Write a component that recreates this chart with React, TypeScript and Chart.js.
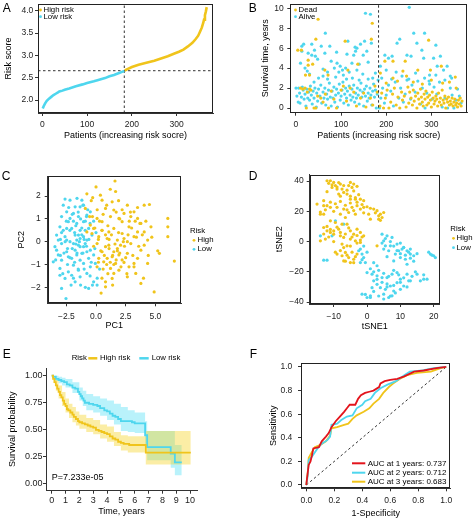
import React, { useEffect, useRef } from "react";
import { Chart, registerables } from "chart.js";
Chart.register(...registerables);

const FONT = '"Liberation Sans", Arial, Helvetica, sans-serif';
Chart.defaults.font.family = FONT;

const YELLOW = "#F0C41B";
const CYAN = "#4ED6EE";
const RED = "#E3141C";
const AXIS = "#333333";

// ---------------- Panel A: risk score curve ----------------
const aLowIdx = [1, 3, 6, 10, 15, 20, 25, 30, 35, 38, 45, 50, 60, 75, 90, 100, 115, 125, 140, 150, 160, 170, 178, 183];
const aLowScore = [1.81, 1.86, 1.92, 1.98, 2.03, 2.07, 2.11, 2.14, 2.17, 2.19, 2.21, 2.23, 2.26, 2.31, 2.35, 2.38, 2.42, 2.45, 2.49, 2.53, 2.56, 2.6, 2.63, 2.65];
const aHighIdx = [184, 190, 200, 215, 230, 250, 265, 280, 295, 305, 315, 325, 335, 342, 348, 352, 356, 359, 361, 363, 365, 367];
const aHighScore = [2.66, 2.69, 2.74, 2.79, 2.83, 2.88, 2.93, 2.98, 3.04, 3.08, 3.13, 3.2, 3.28, 3.36, 3.44, 3.53, 3.62, 3.72, 3.8, 3.9, 3.98, 4.08];
const aCutIdx = 183;
const aCutScore = 2.656;
const aXTicks = [0, 100, 200, 300];
const aYTicks = [2.0, 2.5, 3.0, 3.5, 4.0];

// ---------------- Panel B: survival status ----------------
const bDead = [
  [4, 5.8], [12, 5.8], [49, 8.9], [44, 6.9], [27, 4.8], [27, 4.3], [37, 4.4], [21, 3.3], [30, 3.3], [64, 3.8], [71, 3.3], [109, 6.7], [115, 3.8], [137, 4.4], [169, 8.5], [167, 6.9],
  [187, 3.5], [197, 4.7], [215, 4.7], [237, 3.7], [242, 4.7], [270, 3.8], [294, 6.8], [298, 3.8], [322, 4.2], [353, 3.1],
  [10, 2.0], [15, 1.9], [20, 2.0], [23, 0.0], [25, 1.6], [30, 1.9], [33, 1.8], [40, 0.0], [44, 0.0], [48, 1.2], [55, 1.0], [60, 0.6], [65, 1.4], [72, 0.0], [78, 1.7],
  [84, 0.9], [90, 0.0], [100, 1.8], [105, 2.2], [112, 0.7], [120, 2.0], [128, 1.6], [134, 0.2], [143, 1.0], [150, 1.5], [155, 0.1], [165, 1.0], [170, 0.3], [175, 2.2], [180, 1.6],
  [186, 0.2], [190, 1.5], [194, 0.0], [198, 1.0], [202, 1.8], [206, 0.0], [210, 0.6], [214, 1.4], [218, 2.0], [222, 0.3], [226, 1.1], [230, 0.0], [234, 1.6], [236, 0.8], [240, 1.2],
  [244, 0.1], [248, 2.1], [250, 0.5], [252, 1.6], [255, 1.0], [258, 0.3], [260, 1.8], [262, 0.7], [265, 1.2], [268, 0.0], [270, 1.5], [272, 0.9], [274, 0.4], [276, 1.9], [278, 1.1],
  [280, 0.6], [282, 0.2], [284, 1.4], [286, 0.9], [288, 1.7], [290, 0.3], [292, 1.1], [294, 0.5], [296, 1.3], [298, 0.8], [300, 0.1], [302, 1.6], [304, 1.0], [306, 0.4], [308, 0.7],
  [310, 1.2], [312, 0.9], [314, 0.2], [316, 1.5], [318, 0.6], [320, 1.0], [322, 0.3], [324, 1.8], [326, 0.8], [328, 0.5], [330, 1.2], [332, 0.0], [334, 0.9], [336, 0.6], [338, 1.1],
  [340, 0.3], [342, 0.7], [344, 0.4], [346, 1.0], [348, 0.2], [350, 0.6], [352, 0.9], [354, 0.3], [356, 0.5], [358, 0.1], [360, 0.8], [362, 0.4], [364, 1.0], [366, 0.2], [368, 0.7],
  [200, 2.5], [215, 3.0], [225, 2.7], [260, 2.6], [280, 2.4], [300, 2.8], [325, 2.5], [340, 2.6], [355, 2.0], [245, 3.2],
];
const bAlive = [
  [0, 2.0], [10, 4.5], [13, 6.2], [17, 6.4], [27, 5.5], [35, 5.3], [41, 5.8], [43, 5.2], [65, 7.5], [56, 6.2], [64, 5.5], [78, 4.7], [91, 4.5], [98, 4.2], [103, 3.8], [115, 6.7],
  [124, 4.5], [132, 5.7], [135, 6.0], [143, 6.4], [152, 6.7], [154, 9.5], [165, 9.4], [167, 6.5], [157, 5.7], [149, 5.3], [128, 5.3], [187, 4.2], [197, 5.3], [205, 5.0], [213, 5.2],
  [224, 6.5], [230, 6.9], [251, 10.1], [261, 7.5], [268, 6.5], [285, 7.5], [310, 6.3], [246, 5.3], [255, 5.2], [279, 5.8], [283, 5.0], [305, 5.0], [320, 5.2], [313, 4.2], [327, 3.8],
  [335, 4.2], [296, 3.3], [342, 3.2], [13, 5.7], [35, 6.4], [75, 6.2], [90, 5.6], [113, 5.4], [131, 6.1], [20, 4.0], [48, 4.9], [85, 4.0], [110, 4.0], [140, 4.4], [160, 4.6],
  [60, 3.9], [25, 3.7], [70, 3.6],
  [2, 1.2], [5, 0.6], [6, 2.0], [8, 1.5], [9, 0.5], [12, 1.1], [14, 2.1], [16, 1.8], [18, 0.9], [20, 1.4], [22, 0.2], [24, 1.9], [26, 1.0], [28, 1.6], [30, 0.8], [32, 2.2],
  [34, 1.3], [36, 0.4], [38, 1.7], [40, 1.0], [42, 2.0], [45, 0.1], [46, 1.5], [48, 0.7], [50, 1.9], [53, 1.2], [55, 2.3], [57, 0.5], [60, 1.6], [62, 1.0], [64, 2.0], [66, 0.3],
  [68, 1.4], [70, 0.9], [72, 1.8], [74, 2.5], [76, 1.1], [78, 0.2], [80, 1.7], [82, 1.0], [84, 2.1], [86, 0.6], [88, 1.3], [90, 1.9], [92, 0.1], [94, 1.5], [96, 2.4], [98, 0.8],
  [100, 1.2], [102, 1.8], [104, 2.6], [106, 0.5], [108, 1.4], [110, 2.0], [112, 1.0], [114, 1.7], [116, 0.3], [118, 2.2], [120, 1.3], [122, 0.8], [124, 1.9], [126, 1.1], [128, 2.3],
  [130, 0.6], [132, 1.5], [134, 1.0], [136, 2.0], [138, 1.3], [140, 0.4], [142, 1.8], [144, 2.5], [146, 1.1], [148, 1.6], [150, 0.2], [152, 1.9], [154, 1.2], [156, 2.2], [158, 0.7],
  [160, 1.5], [162, 1.0], [164, 2.0], [166, 1.3], [168, 0.3], [170, 1.7], [172, 2.4], [174, 1.1], [176, 1.8], [178, 0.0], [180, 1.4], [182, 2.8],
  [105, 3.3], [112, 2.9], [118, 3.6], [125, 3.0], [135, 3.8], [140, 2.8], [148, 3.4], [160, 2.9], [170, 3.0], [176, 3.5], [60, 3.2], [70, 2.9], [50, 3.0], [30, 3.4], [88, 3.1],
  [95, 3.6], [40, 2.6],
  [185, 0.0], [188, 1.0], [192, 2.0], [196, 0.5], [200, 1.3], [205, 2.3], [210, 1.7], [216, 0.2], [220, 2.6], [228, 1.0], [232, 2.0], [238, 0.6], [242, 1.4], [246, 2.8], [254, 0.9],
  [257, 2.3], [264, 1.6], [270, 2.7], [276, 0.4], [280, 2.0], [286, 0.0], [290, 1.5], [296, 2.4], [302, 0.9], [306, 2.1], [312, 1.4], [318, 2.6], [324, 0.1], [330, 1.0], [336, 0.0],
  [342, 2.0], [346, 1.3], [350, 0.0], [354, 0.8], [358, 1.9], [362, 1.2], [366, 0.5],
  [190, 3.0], [200, 3.8], [212, 2.9], [222, 3.6], [235, 3.2], [250, 2.9], [265, 3.5], [285, 3.0], [295, 2.7], [310, 3.3], [330, 2.8], [345, 3.0],
];
const bCutIdx = 183;
const bXTicks = [0, 100, 200, 300];
const bYTicks = [0, 2, 4, 6, 8, 10];

// ---------------- Panel C: PCA ----------------
const cHigh = [
  [1.6, 2.66], [-0.77, 2.1], [0.37, 2.04], [1.65, 2.2], [-0.28, 1.93], [0.51, 1.82], [1.36, 1.75], [2.64, 1.6], [4.06, 1.6], [4.5, 1.63], [0.8, 1.46], [1.5, 1.39], [2.36, 1.24],
  [3.2, 1.31], [1.22, 1.1], [1.93, 1.02], [0.09, 1.02], [3.5, 1.02], [6.05, 1.02], [2.78, 0.65], [4.63, 0.65], [6.05, 0.65], [-0.2, 0.58], [0.51, 0.5], [1.5, 0.58], [4.06, 0.43],
  [2.2, 0.36], [3.2, 0.22], [6.05, 0.22], [0.94, 0.14], [1.8, 0.07], [2.64, 0], [4.35, 0.07], [0.09, -0.08], [1.08, -0.15], [2.07, -0.15], [3.78, -0.37], [5.34, -0.51], [0.51, -0.44],
  [1.5, -0.44], [2.64, -0.51], [6.6, -0.85], [0.65, -0.88], [1.65, -0.95], [2.36, -0.91], [3.2, -0.95], [0.09, -1.1], [1.22, -1.17], [1.93, -1.25], [3.35, -1.39], [2.64, -1.54],
  [1.36, -1.61], [0.8, -1.76], [3.78, -1.83], [0.8, -1.98], [4.9, -2.2], [0.43, -2.25], [2.2, 0.88], [2.93, 1.1], [3.78, 0.8], [-0.48, 0.73], [-0.34, 0.36], [0.23, 0.22],
  [0.8, -0.22], [1.36, -0.66], [1.93, -0.58], [2.78, -1.1], [3.5, -0.73], [4.35, -0.95], [1.5, -1.39], [0.23, -0.73], [1.08, 0.43], [2.36, 0.14], [0.51, 0.88], [2.93, -0.08],
  [-0.77, 0.43], [-0.54, 1.1], [-0.9, 1.46], [3.5, 0.43], [4.06, -0.15], [1.8, -0.3], [0.94, -0.73],
  [0.3, 0.9], [0.6, 1.2], [1.0, 0.7], [1.3, 0.3], [1.6, -0.1], [0.4, -0.4], [0.7, -0.6], [1.1, -0.3], [1.4, -0.6], [1.7, -0.8], [2.0, -0.5], [2.4, -0.2], [2.7, 0.3], [3.0, 0.6],
  [3.3, 0.9], [2.2, 1.4], [1.9, 1.8], [0.9, 1.6], [0.1, 1.4], [-0.3, 1.1], [-0.1, 0.6], [0.2, 0.1], [0.6, -1.2], [1.0, -1.4], [1.5, -1.0], [2.1, -1.1], [2.5, -0.7], [3.1, -0.6],
  [3.6, -0.2], [3.9, 0.3], [4.2, 0.9], [2.9, 1.3], [3.5, 1.5], [1.2, 2.3], [0.0, 2.4], [-0.4, 1.8], [0.8, 0.3], [1.2, -0.9], [1.9, 0.4], [2.3, 0.0], [2.6, -1.4], [3.2, -1.1],
  [4.4, -0.6], [4.0, -1.6], [0.5, -1.6], [1.4, -1.9], [2.0, 1.0], [2.8, 0.9], [3.4, 0.2], [1.7, 1.3], [0.2, -0.9], [-0.2, -0.2], [1.1, 0.1], [0.5, 0.5], [1.8, -0.4], [2.2, -0.8],
  [0.9, -1.0], [3.7, 0.8], [4.7, 0.2], [5.2, -0.4],
];
const cLow = [
  [-2.61, 1.87], [-2.19, 1.82], [-2.76, 1.6], [-1.34, 1.53], [-1.05, 1.6], [-2.47, 1.31], [-1.9, 1.24], [-2.9, 1.1], [-1.48, 1.1], [-0.77, 1.17], [-2.33, 0.88], [-1.62, 0.8],
  [-1.05, 0.88], [-3.04, 0.65], [-2.05, 0.58], [-1.34, 0.5], [-0.62, 0.58], [-3.32, 0.29], [-2.61, 0.22], [-1.76, 0.29], [-1.05, 0.22], [-2.9, -0.08], [-2.19, 0], [-1.48, -0.15],
  [-0.91, -0.08], [-3.32, -0.37], [-2.47, -0.44], [-1.76, -0.37], [-1.19, -0.51], [-0.48, -0.37], [-3.6, -0.88], [-2.9, -0.81], [-2.05, -0.73], [-1.34, -0.81], [-0.62, -0.73],
  [-3.04, -1.17], [-2.33, -1.32], [-1.48, -1.25], [-0.77, -1.39], [-2.61, -1.61], [-1.76, -1.76], [-0.2, -1.76], [-2.9, -2.05], [0.09, -1.9], [-0.62, -2.05], [-2.53, -2.49],
  [-0.48, -1.1], [-3.18, -0.58], [-1.9, -1.03], [-1.05, -0.95], [-2.47, 0.07], [-1.62, 0.07], [-2.76, 0.5], [-0.91, 0.5], [-0.34, 0.29], [-0.48, 1.31], [-1.76, 1.53], [-2.19, 1.02],
  [-1.34, -0.22], [-0.77, -0.44], [-0.2, -0.58], [-0.06, -0.95], [-3.46, -0.22], [-2.33, -0.66], [-1.62, -0.58], [-2.05, -1.47], [-1.34, -1.54], [-3.04, -1.47], [-1.19, 1.82],
  [-1.48, 0.29], [-1.9, -0.08], [-1.34, 0.14], [-1.05, -0.22], [-0.77, 0.07], [-2.47, 0.58], [-3.18, 0.07],
  [-2.2, 0.5], [-1.9, 0.9], [-1.5, 1.3], [-1.2, 0.6], [-0.9, 0.9], [-2.6, 0.0], [-2.0, -0.3], [-1.7, -0.1], [-1.4, 0.0], [-1.1, -0.5], [-0.8, -0.2], [-3.0, -0.6], [-2.7, -0.5],
  [-2.4, -1.0], [-1.8, -0.9], [-1.6, -0.5], [-1.0, -1.2], [-0.5, -1.5], [-2.1, -1.9], [-1.3, -1.9], [-0.9, -2.0], [-3.4, -0.8], [-2.9, 0.4], [-1.1, 1.6], [-0.7, 1.4], [-1.6, 1.9],
  [-2.3, 1.5], [-0.6, 0.1], [-0.4, -0.9], [0.3, -1.2], [0.1, -1.6], [-1.2, 0.3], [-2.5, 0.9], [-3.0, 0.1], [-1.8, 0.4], [-0.5, 0.8], [-2.2, -0.7], [-1.5, -1.2], [-2.8, -1.4],
  [-1.9, -1.6], [-0.3, -1.9], [-0.8, 1.1], [-1.3, 1.0], [-2.0, 1.2], [-0.2, 0.9], [0.0, 0.4], [-0.1, -0.3], [-1.0, 0.1], [-1.7, 0.7], [-2.4, -0.3],
];
const cXTicks = [-2.5, 0, 2.5, 5];
const cYTicks = [-2, -1, 0, 1, 2];

// ---------------- Panel D: tSNE ----------------
const dHigh = [
  [-12, 40.2], [-11, 40.2], [-10, 39.1], [-9.5, 37], [-10.5, 35.8], [-9, 34.7], [-8, 38], [-7.5, 34.7], [-7, 32.5], [-5.5, 37], [-5, 39.1], [-4.5, 35.8], [-4, 38], [-6, 31.4],
  [-8.5, 31.4], [-3.5, 28], [-2, 28], [-1, 27], [-5, 28], [-15, 24.8], [-13, 23.7], [-12, 23.7], [-11, 22.6], [-9, 22.6], [-7, 21.5], [-4.5, 22.6], [-3, 23.7], [-2, 21.5],
  [-1, 22.6], [-14, 18.1], [-13, 18.1], [-8, 18.1], [-5.5, 19.2], [-3.5, 18.1], [0.5, 18.1], [2, 21.5], [3, 20.4], [4, 18.1], [5, 19.2], [3.5, 14.8], [4.5, 15.9], [1, 14.8],
  [-13, 9.3], [-12, 7.1], [-11, 6], [-10, 4.9], [-8.5, 8.2], [-7.5, 11.5], [-6, 11.5], [-8, 3.8], [-7, 2.7], [-5, 7.1], [-4, 4.9], [-3, 8.2], [-2, 6], [-1, 3.8], [-5, 1.6],
  [-3.5, 0.5], [-2, -0.6], [-7.5, -1.7], [-6, -2.8], [-9, -8.3], [-7.5, -9.4], [-6.5, -7.2], [-5.5, -10.6], [-7, -12.8], [-5, -13.9], [-4, -11.7], [-3, -8.3], [-12.5, 1.6],
  [-14, 0.5], [3, -2.8], [-9.5, 12.6], [-6.5, 15.9], [-11, 13.7],
  [-11.5, 38.5], [-10.5, 37.5], [-9, 36], [-8.5, 39], [-7, 37], [-6, 34], [-4, 33.5], [-3, 36.5], [-2.5, 31], [-5, 30], [-3.5, 29], [-8, 30], [-12, 33], [-13, 27], [-11, 26],
  [-9.5, 25], [-8, 26.5], [-6.5, 24], [-5, 25.5], [-3, 26], [-1.5, 24.5], [0, 23], [-1, 19], [-4, 20.5], [-6, 21], [-10, 20], [-12.5, 21], [-14, 19.5], [1, 22], [3.5, 17],
  [4, 14], [2.5, 19], [-12, 10], [-11, 8], [-10, 7], [-9, 9.5], [-8, 6], [-6.5, 5], [-5.5, 9], [-4.5, 3], [-3, 4], [-2, 1], [-7, -4], [-8, -6], [-9.5, -7], [-6, -9], [-4.5, -7],
  [-3.5, -10], [-6.5, -13], [-4, -14], [-5, -3], [-3, -1], [-1.5, 3], [-10, 0], [-11.5, 3], [-13, 5],
];
const dLow = [
  [-14, 3.8], [-12, -12.3], [-13, -12.3], [-9.5, 13.7], [-7, 11.5], [-10.5, 3.8],
  [4.5, 4.9], [6, 3.8], [7.5, 2.7], [5, 0.5], [7, -2.8], [9, -1.7], [10.5, -5], [12, -6.1], [13, -8.3], [8.5, -8.3], [10, -10.6], [11.5, -11.7], [13, -5], [14, -9.4], [8, -12.8],
  [19, -8.3], [20, -9.4], [20.5, -10.6], [-2.5, -6.1], [-1.5, -8.3], [-1, -10.6], [-2, -13.9], [-0.5, -13.9],
  [0, -20.5], [1.5, -21.6], [3, -22.7], [4.5, -23.8], [6, -23.8], [7.5, -21.6], [9, -20.5], [10, -24.9], [12, -21.6], [13, -26], [15, -21.6], [17, -24.9], [18, -24.9], [2, -26],
  [3, -28.3], [4, -30.5], [1.5, -30.5], [5.5, -31.6], [7, -29.4], [9, -27.2], [11, -29.4], [-1.5, -34.8], [0, -37], [1, -35.9], [5, -34.8], [6.5, -37], [7.5, -35.9], [8, -32.7],
  [10, -31.6], [12.5, -26], [9.5, -6.1], [11, -3.9], [6.5, -6.1], [5.5, -2.8],
  [-1, -3], [-2, -5], [0, -7], [-1.5, -12], [1, -18], [2, -20], [3.5, -19], [5, -21], [6.5, -23], [8, -19], [9.5, -22], [11, -24], [13.5, -23], [14.5, -20], [16, -26], [3, -25],
  [4.5, -27], [6, -28], [8, -29], [10, -27], [12, -30], [2, -33], [3.5, -36], [5, -38], [7, -36], [8.5, -34], [1, -37], [-0.5, -35], [6, -30], [9, -6], [10, -8], [11.5, -9],
  [12.5, -7], [8, -3], [7, 0], [5.5, 2], [4.5, -1], [10, -1], [11, -4], [13, -11], [14, -13], [15, -8], [6, -10], [5, -5], [18.5, -7], [19.5, -9], [17, -22], [2, -14], [3, -16],
  [12, -15],
];
const dXTicks = [-10, 0, 10, 20];
const dYTicks = [-40, -20, 0, 20, 40];

// ---------------- Panel E: Kaplan-Meier ----------------
const eHighT = [0, 0.1, 0.2, 0.3, 0.4, 0.5, 0.6, 0.7, 0.8, 0.9, 1.0, 1.1, 1.2, 1.35, 1.5, 1.6, 1.75, 1.9, 2.0, 2.2, 2.4, 2.6, 2.8, 3.0, 3.2, 3.4, 3.6, 3.8, 4.0, 4.2, 4.4, 4.6, 4.8, 5.0, 5.2, 5.6, 6.8, 10.05];
const eHighS = [1, 0.97, 0.94, 0.91, 0.88, 0.85, 0.82, 0.8, 0.77, 0.74, 0.72, 0.69, 0.68, 0.66, 0.64, 0.62, 0.6, 0.58, 0.57, 0.56, 0.55, 0.54, 0.53, 0.52, 0.5, 0.49, 0.48, 0.47, 0.46, 0.44, 0.42, 0.41, 0.39, 0.38, 0.37, 0.36, 0.29, 0.29];
const eLowT = [0, 0.1, 0.3, 0.5, 0.7, 0.9, 1.1, 1.3, 1.5, 1.7, 1.9, 2.0, 2.1, 2.2, 2.3, 2.4, 2.7, 3.0, 3.3, 3.5, 3.8, 4.0, 4.2, 4.4, 4.6, 4.8, 5.0, 5.8, 6.0, 6.75, 6.9, 8.6, 8.9, 9.4];
const eLowS = [1, 0.99, 0.97, 0.96, 0.95, 0.94, 0.92, 0.91, 0.89, 0.88, 0.85, 0.83, 0.81, 0.79, 0.77, 0.75, 0.74, 0.73, 0.72, 0.7, 0.68, 0.67, 0.65, 0.63, 0.62, 0.6, 0.58, 0.57, 0.56, 0.45, 0.34, 0.28, 0.2, 0.2];
const eHighBandT = [0, 0.15, 0.3, 0.5, 0.75, 1, 1.25, 1.5, 1.75, 2, 2.5, 3, 3.5, 4, 4.5, 5, 5.5, 6.8, 10.05];
const eHighUpper = [1, 0.99, 0.96, 0.91, 0.85, 0.79, 0.74, 0.71, 0.67, 0.64, 0.61, 0.59, 0.55, 0.53, 0.48, 0.45, 0.44, 0.49, 0.49];
const eHighLower = [1, 0.93, 0.86, 0.79, 0.72, 0.66, 0.61, 0.57, 0.54, 0.51, 0.48, 0.46, 0.42, 0.39, 0.35, 0.31, 0.29, 0.18, 0.18];
const eLowBandT = [0, 0.25, 0.5, 0.75, 1, 1.5, 2, 2.25, 2.5, 3, 3.5, 4, 4.5, 5, 5.5, 6, 6.75, 6.9, 8.6, 8.9, 9.4];
const eLowUpper = [1, 1, 0.99, 0.98, 0.97, 0.94, 0.89, 0.86, 0.83, 0.81, 0.79, 0.77, 0.74, 0.71, 0.68, 0.66, 0.58, 0.49, 0.49, 0.36, 0.36];
const eLowLower = [1, 0.95, 0.93, 0.91, 0.89, 0.84, 0.77, 0.72, 0.68, 0.66, 0.63, 0.59, 0.55, 0.49, 0.48, 0.47, 0.34, 0.22, 0.15, 0.08, 0.08];
const eXTicks = [0, 1, 2, 3, 4, 5, 6, 7, 8, 9, 10];
const eYTicks = [0, 0.25, 0.5, 0.75, 1];
const ePValue = "P=7.233e-05";

// ---------------- Panel F: time-dependent ROC ----------------
const fFpr1 = [0, 0.005, 0.017, 0.03, 0.04, 0.05, 0.09, 0.11, 0.14, 0.16, 0.18, 0.21, 0.24, 0.27, 0.29, 0.31, 0.35, 0.37, 0.39, 0.42, 0.45, 0.48, 0.52, 0.53, 0.56, 0.6, 0.65, 0.7, 0.77, 0.84, 0.93, 1];
const fTpr1 = [0, 0.056, 0.17, 0.2, 0.25, 0.31, 0.32, 0.37, 0.41, 0.44, 0.49, 0.54, 0.58, 0.62, 0.65, 0.68, 0.68, 0.73, 0.76, 0.78, 0.79, 0.8, 0.83, 0.86, 0.88, 0.89, 0.9, 0.92, 0.96, 0.97, 0.99, 1];
const fFpr2 = [0, 0.01, 0.017, 0.04, 0.08, 0.11, 0.15, 0.17, 0.18, 0.22, 0.25, 0.29, 0.33, 0.36, 0.4, 0.42, 0.46, 0.49, 0.53, 0.58, 0.64, 0.7, 0.74, 0.83, 0.91, 1];
const fTpr2 = [0, 0.08, 0.21, 0.24, 0.31, 0.35, 0.38, 0.41, 0.51, 0.52, 0.55, 0.58, 0.59, 0.65, 0.68, 0.71, 0.73, 0.78, 0.82, 0.85, 0.88, 0.93, 0.96, 0.97, 0.99, 1];
const fFpr3 = [0, 0.01, 0.017, 0.04, 0.06, 0.1, 0.14, 0.17, 0.18, 0.22, 0.27, 0.3, 0.33, 0.36, 0.41, 0.45, 0.48, 0.52, 0.55, 0.59, 0.62, 0.67, 0.72, 0.79, 0.89, 0.96, 1];
const fTpr3 = [0, 0.1, 0.23, 0.28, 0.32, 0.34, 0.37, 0.42, 0.48, 0.49, 0.51, 0.52, 0.56, 0.59, 0.62, 0.65, 0.69, 0.73, 0.78, 0.83, 0.86, 0.9, 0.93, 0.95, 0.96, 0.99, 1];
const fLabels = ["AUC at 1 years: 0.737", "AUC at 2 years: 0.712", "AUC at 3 years: 0.683"];
const fTicks = [0, 0.2, 0.4, 0.6, 0.8, 1.0];

// ---------------- helpers ----------------
const pts = (arr: number[][]) => arr.map(([x, y]) => ({ x, y }));
const xy = (xs: number[], ys: number[]) => xs.map((x, i) => ({ x, y: ys[i] }));
const fmt = (d: number) => (v: number) => (v < 0 ? "\u2212" : "") + Math.abs(v).toFixed(d);

type AxisSpec = {
  min: number; max: number; ticks: number[]; fmt: (v: number) => string; size: number;
  title: string; titlePad: number; tickPad: number; tickSize?: number; titleSize?: number;
};
function axis(s: AxisSpec, horizontal: boolean) {
  const tickSize = s.tickSize ?? 8.5;
  const titleSize = s.titleSize ?? 9;
  return {
    type: "linear",
    min: s.min,
    max: s.max,
    afterBuildTicks: (sc: any) => { sc.ticks = s.ticks.map((v) => ({ value: v })); },
    afterFit: (sc: any) => {
      if (horizontal) sc.height = s.size; else sc.width = s.size;
      sc.paddingLeft = 0; sc.paddingRight = 0; sc.paddingTop = 0; sc.paddingBottom = 0;
    },
    grid: { display: true, drawOnChartArea: false, drawTicks: true, tickLength: 3, tickWidth: 1, tickColor: AXIS, color: AXIS },
    border: { display: true, color: AXIS, width: 1 },
    ticks: {
      autoSkip: false, maxRotation: 0, minRotation: 0, padding: s.tickPad, color: "#222",
      font: { size: tickSize }, callback: (v: any) => s.fmt(Number(v)),
    },
    title: {
      display: true, text: s.title, color: "#000", font: { size: titleSize },
      padding: horizontal ? { top: 0, bottom: s.titlePad } : { top: s.titlePad, bottom: 0 },
    },
  };
}

const deco = {
  id: "deco",
  afterDraw(chart: any, _args: any, opts: any) {
    const ctx = chart.ctx;
    const { left, top, right, bottom } = chart.chartArea;
    ctx.save();
    if (opts.box) {
      ctx.strokeStyle = "#222";
      ctx.lineWidth = 1;
      const l = Math.round(left) + 0.5, t = Math.round(top) + 0.5;
      const r = Math.round(right) - 0.5, b = Math.round(bottom) - 0.5;
      ctx.strokeRect(l, t, r - l, b - t);
    }
    for (const it of opts.items || []) {
      if (it.k === "t") {
        ctx.font = `${it.size}px ${FONT}`;
        ctx.fillStyle = it.c || "#000";
        ctx.textAlign = it.align || "left";
        ctx.textBaseline = it.base || "middle";
        ctx.fillText(it.s, it.x, it.y);
      } else if (it.k === "d") {
        ctx.fillStyle = it.c;
        ctx.beginPath();
        ctx.arc(it.x, it.y, it.r || 1.6, 0, Math.PI * 2);
        ctx.fill();
      } else if (it.k === "l") {
        ctx.strokeStyle = it.c;
        ctx.lineWidth = it.w || 1;
        ctx.beginPath();
        ctx.moveTo(it.x1, it.y1);
        ctx.lineTo(it.x2, it.y2);
        ctx.stroke();
      }
    }
    ctx.restore();
  },
};

const T = (x: number, y: number, s: string, size: number, extra: any = {}) => ({ k: "t", x, y, s, size, ...extra });
const Dot = (x: number, y: number, c: string, r = 1.6) => ({ k: "d", x, y, c, r });
const Ln = (x1: number, y1: number, x2: number, y2: number, c: string, w = 1) => ({ k: "l", x1, y1, x2, y2, c, w });
const letter = (x: number, y: number, s: string) => T(x, y, s, 12, { base: "alphabetic" });

const basePlugins = (items: any[], box: boolean) => ({
  legend: { display: false },
  tooltip: { enabled: false },
  deco: { box, items },
});

const scatterSet = (data: number[][], color: string) => ({
  type: "scatter", data: pts(data), pointRadius: 1.6, pointBorderWidth: 0,
  pointBackgroundColor: color, pointBorderColor: color, showLine: false,
});
const dashed = (data: { x: number; y: number }[]) => ({
  type: "line", data, borderColor: "#333", borderWidth: 1, borderDash: [2.5, 2.5], pointRadius: 0, fill: false,
});

// ---------------- configs ----------------
const A_X = [-9.6, 381];
const A_Y = [1.709, 4.15];
function configA() {
  return {
    type: "scatter",
    data: {
      datasets: [
        { type: "line", data: xy(aHighIdx, aHighScore), borderColor: YELLOW, borderWidth: 2.6, pointRadius: 0, fill: false },
        { type: "line", data: xy(aLowIdx, aLowScore), borderColor: CYAN, borderWidth: 2.6, pointRadius: 0, fill: false },
        dashed([{ x: aCutIdx, y: A_Y[0] }, { x: aCutIdx, y: A_Y[1] }]),
        dashed([{ x: A_X[0], y: aCutScore }, { x: A_X[1], y: aCutScore }]),
      ],
    },
    options: {
      animation: false, responsive: false,
      layout: { padding: { left: 0, top: 4, right: 24, bottom: 0 } },
      scales: {
        x: axis({ min: A_X[0], max: A_X[1], ticks: aXTicks, fmt: fmt(0), size: 57, title: "Patients (increasing risk socre)", titlePad: 29, tickPad: 3.9 }, true),
        y: axis({ min: A_Y[0], max: A_Y[1], ticks: aYTicks, fmt: fmt(1), size: 38, title: "Risk score", titlePad: 3.1, tickPad: 1.7 }, false),
      },
      plugins: basePlugins([
        letter(2.7, 11.7, "A"),
        Dot(40.5, 10, YELLOW, 1.4), T(43.5, 10, "High risk", 7.8),
        Dot(40.5, 16.7, CYAN, 1.4), T(43.5, 16.7, "Low risk", 7.8),
      ], true),
    },
    plugins: [deco],
  };
}

const B_X = [-12.6, 379];
const B_Y = [-0.47, 10.43];
function configB() {
  return {
    type: "scatter",
    data: {
      datasets: [
        dashed([{ x: bCutIdx, y: B_Y[0] }, { x: bCutIdx, y: B_Y[1] }]),
        scatterSet(bDead, YELLOW),
        scatterSet(bAlive, CYAN),
      ],
    },
    options: {
      animation: false, responsive: false,
      layout: { padding: { left: 0, top: 4, right: 7, bottom: 0 } },
      scales: {
        x: axis({ min: B_X[0], max: B_X[1], ticks: bXTicks, fmt: fmt(0), size: 57.3, title: "Patients (increasing risk socre)", titlePad: 28.8, tickPad: 4.2 }, true),
        y: axis({ min: B_Y[0], max: B_Y[1], ticks: bYTicks, fmt: fmt(0), size: 53.3, title: "Survival time, yesrs", titlePad: 23.1, tickPad: 3.6 }, false),
      },
      plugins: basePlugins([
        letter(11.7, 11.7, "B"),
        Dot(58.5, 10, YELLOW, 1.4), T(61.5, 10, "Dead", 7.8),
        Dot(58.5, 16.7, CYAN, 1.4), T(61.5, 16.7, "Alive", 7.8),
      ], true),
    },
    plugins: [deco],
  };
}

function configC() {
  return {
    type: "scatter",
    data: { datasets: [scatterSet(cHigh, YELLOW), scatterSet(cLow, CYAN)] },
    options: {
      animation: false, responsive: false,
      layout: { padding: { left: 0, top: 6, right: 56, bottom: 0 } },
      scales: {
        x: axis({ min: -4.07, max: 7.16, ticks: cXTicks, fmt: fmt(1), size: 41.7, title: "PC1", titlePad: 13.6, tickPad: 5.3 }, true),
        y: axis({ min: -2.7, max: 2.88, ticks: cYTicks, fmt: fmt(0), size: 47.7, title: "PC2", titlePad: 16.3, tickPad: 4 }, false),
      },
      plugins: basePlugins([
        letter(1.7, 10, "C"),
        T(190, 60.5, "Risk", 7.8),
        Dot(194, 70.3, YELLOW, 1.4), T(197.5, 70.3, "High", 7.8),
        Dot(194, 79.3, CYAN, 1.4), T(197.5, 79.3, "Low", 7.8),
      ], true),
    },
    plugins: [deco],
  };
}

function configD() {
  return {
    type: "scatter",
    data: { datasets: [scatterSet(dHigh, YELLOW), scatterSet(dLow, CYAN)] },
    options: {
      animation: false, responsive: false,
      layout: { padding: { left: 0, top: 4.7, right: 34.3, bottom: 0 } },
      scales: {
        x: axis({ min: -17.2, max: 21.8, ticks: dXTicks, fmt: fmt(0), size: 41, title: "tSNE1", titlePad: 13.3, tickPad: 4.6 }, true),
        y: axis({ min: -41.3, max: 44.2, ticks: dYTicks, fmt: fmt(0), size: 72.7, title: "tSNE2", titlePad: 37.3, tickPad: 3 }, false),
      },
      plugins: basePlugins([
        letter(11.7, 10, "D"),
        T(213.3, 59, "Risk", 7.8),
        Dot(216.5, 68.3, YELLOW, 1.4), T(219.5, 68.3, "High", 7.8),
        Dot(216.5, 77.7, CYAN, 1.4), T(219.5, 77.7, "Low", 7.8),
      ], true),
    },
    plugins: [deco],
  };
}

function configE() {
  const band = (t: number[], v: number[], color: string, fill: any) => ({
    type: "line", data: xy(t, v), stepped: true, borderWidth: 0, borderColor: "rgba(0,0,0,0)",
    backgroundColor: color, pointRadius: 0, fill,
  });
  return {
    type: "line",
    data: {
      datasets: [
        { type: "line", data: xy(eHighT, eHighS), stepped: true, borderColor: YELLOW, borderWidth: 1.8, pointRadius: 0, fill: false },
        { type: "line", data: xy(eLowT, eLowS), stepped: true, borderColor: CYAN, borderWidth: 1.8, pointRadius: 0, fill: false },
        band(eHighBandT, eHighUpper, "rgba(245,210,30,0.40)", "+1"),
        band(eHighBandT, eHighLower, "rgba(0,0,0,0)", false),
        band(eLowBandT, eLowUpper, "rgba(70,220,245,0.38)", "+1"),
        band(eLowBandT, eLowLower, "rgba(0,0,0,0)", false),
      ],
    },
    options: {
      animation: false, responsive: false,
      layout: { padding: { left: 0, top: 23, right: 40, bottom: 0 } },
      scales: {
        x: axis({ min: -0.41, max: 10.5, ticks: eXTicks, fmt: fmt(0), size: 27.3, title: "Time, years", titlePad: 1.3, tickPad: 1.9, tickSize: 9, titleSize: 9 }, true),
        y: axis({ min: -0.062, max: 1.071, ticks: eYTicks, fmt: fmt(2), size: 46, title: "Survival probability", titlePad: 7.1, tickPad: 0.5, tickSize: 9, titleSize: 9 }, false),
      },
      plugins: basePlugins([
        letter(2.7, 13.3, "E"),
        T(71.7, 13.3, "Risk", 7.8),
        Ln(88.3, 13.3, 97.3, 13.3, YELLOW, 2.5), T(100, 13.3, "High risk", 7.8),
        Ln(139.3, 13.3, 148.7, 13.3, CYAN, 2.5), T(151.7, 13.3, "Low risk", 7.8),
        T(51.7, 132.7, ePValue, 9),
      ], false),
    },
    plugins: [deco],
  };
}

function configF() {
  const roc = (x: number[], y: number[], c: string) => ({
    type: "line", data: xy(x, y), borderColor: c, borderWidth: 1.8, pointRadius: 0, fill: false,
  });
  return {
    type: "line",
    data: {
      datasets: [
        roc(fFpr1, fTpr1, RED),
        roc(fFpr2, fTpr2, CYAN),
        roc(fFpr3, fTpr3, YELLOW),
        dashed([{ x: 0, y: 0 }, { x: 1, y: 1 }]),
      ],
    },
    options: {
      animation: false, responsive: false,
      layout: { padding: { left: 0, top: 18.3, right: 23.7, bottom: 0 } },
      scales: {
        x: axis({ min: -0.038, max: 1.029, ticks: fTicks, fmt: fmt(1), size: 29.7, title: "1-Specificity", titlePad: -1.4, tickPad: 4.1 }, true),
        y: axis({ min: -0.028, max: 1.031, ticks: fTicks, fmt: fmt(1), size: 64, title: "Sensitivity", titlePad: 31.6, tickPad: 5.7 }, false),
      },
      plugins: basePlugins([
        letter(12.7, 13.3, "F"),
        Ln(115, 118.3, 128.3, 118.3, RED, 2), T(130.7, 118.3, fLabels[0], 8),
        Ln(115, 127.7, 128.3, 127.7, CYAN, 2), T(130.7, 127.7, fLabels[1], 8),
        Ln(115, 136.7, 128.3, 136.7, YELLOW, 2), T(130.7, 136.7, fLabels[2], 8),
      ], true),
    },
    plugins: [deco],
  };
}

function Panel({ left, top, width, height, build }: { left: number; top: number; width: number; height: number; build: () => any }) {
  const ref = useRef<HTMLCanvasElement | null>(null);
  useEffect(() => {
    const chart = new Chart(ref.current as HTMLCanvasElement, build());
    return () => chart.destroy();
  }, []);
  return (
    <canvas
      ref={ref}
      width={width}
      height={height}
      style={{ position: "absolute", left, top, width, height, display: "block" }}
    />
  );
}

export default function App() {
  return (
    <div style={{ position: "absolute", left: 0, top: 0, width: 474, height: 518, background: "#fff", overflow: "hidden" }}>
      <Panel left={0} top={0} width={237} height={170} build={configA} />
      <Panel left={237} top={0} width={237} height={170} build={configB} />
      <Panel left={0} top={170} width={237} height={175} build={configC} />
      <Panel left={237} top={170} width={237} height={175} build={configD} />
      <Panel left={0} top={345} width={237} height={173} build={configE} />
      <Panel left={237} top={345} width={237} height={173} build={configF} />
    </div>
  );
}
